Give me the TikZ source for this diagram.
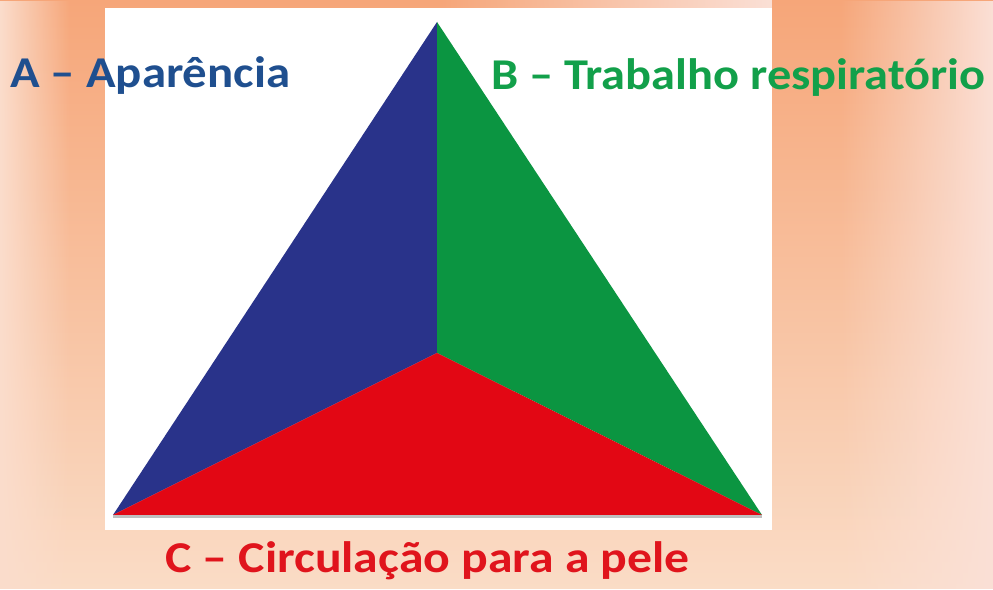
\documentclass[tikz,border=0pt]{standalone}
\usepackage{fontspec}
\setmainfont{Carlito}
\usetikzlibrary{positioning, fadings}

\definecolor{triblue}{HTML}{29338A}
\definecolor{trigreen}{HTML}{0B9541}
\definecolor{trired}{HTML}{E20714}
\definecolor{txtblue}{HTML}{1F4F8F}
\definecolor{txtgreen}{HTML}{12A04A}
\definecolor{txtred}{HTML}{E0141C}
\definecolor{peachtop}{HTML}{F6A679}
\definecolor{peachmid}{HTML}{F8CC9A}
\definecolor{peachlow}{HTML}{FADCC6}
\definecolor{peachedge}{HTML}{FBDDCC}
\definecolor{pinkedge}{HTML}{FBE0D6}

\tikzset{
  label/.style={anchor=base west, inner sep=0pt, font=\fontsize{44}{48}\selectfont\bfseries},
}

\begin{document}
\begin{tikzpicture}[x=1pt,y=1pt]
    \useasboundingbox (0,0) rectangle (993,589);

    % Background
    \shade[top color=peachtop, middle color=peachmid, bottom color=peachlow] (0,0) rectangle (993,589);
    \fill[peachedge, path fading=east] (0,0) rectangle (70,589);
    \fill[pinkedge, path fading=west] (840,0) rectangle (993,589);
    \fill[pinkedge, path fading=west] (440,560) rectangle (772,589);

    % White panel
    \fill[white] (105,59) rectangle (772,581);

    % Triangle corners
    \coordinate (apex) at (437,567);
    \coordinate (left) at (113,74);
    \coordinate (right) at (762,74);
    \coordinate (mid) at (437,236);

    % Soft shadow under the base
    \fill[black!25] ([yshift=-3]left) -- ([yshift=-3]right) -- (right) -- (left) -- cycle;

    % Three faces
    \fill[triblue] (apex) -- (left) -- (mid) -- cycle;
    \fill[trigreen] (apex) -- (mid) -- (right) -- cycle;
    \fill[trired] (left) -- (mid) -- (right) -- cycle;

    % Labels
    \node[label, txtblue] (aparencia) at (10,501) {\scalebox{1.11}[1]{A – Aparência}};
    \node[label, txtgreen] (trabalho) at (491,499) {\scalebox{1.10}[1]{B – Trabalho respiratório}};
    \node[label, txtred] (circulacao) at (165,16) {\scalebox{1.13}[1]{C – Circulação para a pele}};
\end{tikzpicture}
\end{document}
